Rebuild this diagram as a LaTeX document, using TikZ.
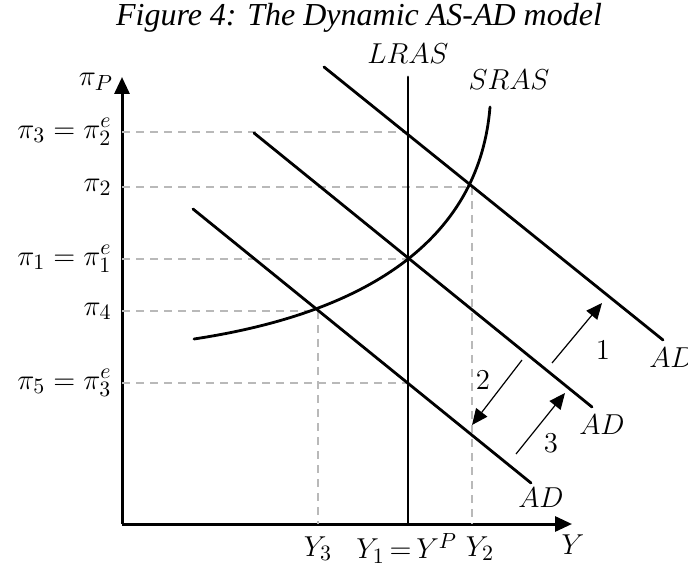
\documentclass[tikz,border=0pt]{standalone}
\usepackage{fontspec}
\setmainfont{Liberation Serif}
\usepackage{tikz}
\usetikzlibrary{arrows.meta, positioning, calc}
\definecolor{guidegray}{RGB}{185,185,185}

\begin{document}
\begin{tikzpicture}[x=0.5pt, y=-0.5pt,
    axis/.style={-{Triangle[length=8.5pt, width=7.5pt]}, line width=1.5pt},
    curve/.style={line width=1.4pt, line cap=round},
    guide/.style={guidegray, line width=0.7pt, dash pattern=on 4pt off 3pt},
    shiftarr/.style={-{Triangle[length=8pt, width=7pt]}, line width=0.6pt},
    lbl/.style={font=\fontsize{15.5}{18}\selectfont, inner sep=1pt},
]
\useasboundingbox (0,0) rectangle (688,565);

\node[font=\fontsize{16}{19}\selectfont\itshape] (title) at (359,18) {Figure 4: The Dynamic AS-AD model};

% axes
\coordinate (O) at (122,524);
\coordinate (ytop) at (122,77);
\coordinate (xend) at (572,524);
\draw[axis] (O) -- (ytop);
\draw[axis] (O) -- (xend);
\node[lbl] (piP) at (96,82) {$\pi_P$};
\node[lbl] (Ylab) at (573,545) {$Y$};

% equilibrium points
\coordinate (E1) at (408,259);
\coordinate (E2) at (472,187);
\coordinate (E3) at (408,132);
\coordinate (E4) at (318,311);
\coordinate (E5) at (408,383);

% dashed guides
\draw[guide] (O |- E3) -- (E3);
\draw[guide] (O |- E2) -- (E2);
\draw[guide] (O |- E1) -- (E1);
\draw[guide] (O |- E4) -- (E4);
\draw[guide] (O |- E5) -- (E5);
\draw[guide] (E4) -- (E4 |- O);
\draw[guide] (E2) -- (E2 |- O);

\node[lbl, left=4pt] (p3) at (O |- E3) {$\pi_3=\pi_2^e$};
\node[lbl, left=4pt] (p2) at (O |- E2) {$\pi_2$};
\node[lbl, left=4pt] (p1) at (O |- E1) {$\pi_1=\pi_1^e$};
\node[lbl, left=4pt] (p4) at (O |- E4) {$\pi_4$};
\node[lbl, left=4pt] (p5) at (O |- E5) {$\pi_5=\pi_3^e$};

\node[lbl, below=5pt] (y3) at (E4 |- O) {$Y_3$};
\node[lbl, below=5pt, xshift=4pt] (y2) at (E2 |- O) {$Y_2$};
\node[lbl, anchor=east] (y1) at ($(y2.west)+(-4,0)$) {$Y_1\mskip-2mu=\mskip-2mu Y^P$};

% LRAS
\coordinate (lrasTop) at (408,77);
\draw[curve] (lrasTop) -- (E1 |- O);
\node[lbl] (lras) at (408,54) {$LRAS$};

% SRAS
\coordinate (srasA) at (194,339);
\coordinate (srasB) at (490,107);
\coordinate (srasC1) at (379,311);
\coordinate (srasC2) at (480,232);
\draw[curve] (srasA) .. controls (srasC1) and (srasC2) .. (srasB);
\node[lbl] (sras) at (509,80) {$SRAS$};

% AD curves
\coordinate (adAs) at (324,67);
\coordinate (adAe) at (663,340);
\coordinate (adBs) at (254,133);
\coordinate (adBe) at (592,407);
\coordinate (adCs) at (193,209);
\coordinate (adCe) at (531,483);
\draw[curve] (adAs) -- (adAe);
\draw[curve] (adBs) -- (adBe);
\draw[curve] (adCs) -- (adCe);
\node[lbl] (adA) at (672,358) {$AD$};
\node[lbl] (adB) at (602,425) {$AD$};
\node[lbl] (adC) at (541,498) {$AD$};

% shifts
\coordinate (s1a) at (552,363);
\coordinate (s1b) at (602,303);
\coordinate (s2a) at (522,360);
\coordinate (s2b) at (472,425);
\coordinate (s3a) at (516,454);
\coordinate (s3b) at (565,393);
\draw[shiftarr] (s1a) -- (s1b);
\draw[shiftarr] (s2a) -- (s2b);
\draw[shiftarr] (s3a) -- (s3b);
\node[lbl] (n1) at (603,350) {$1$};
\node[lbl] (n2) at (483,380) {$2$};
\node[lbl] (n3) at (551,443) {$3$};

\end{tikzpicture}
\end{document}
